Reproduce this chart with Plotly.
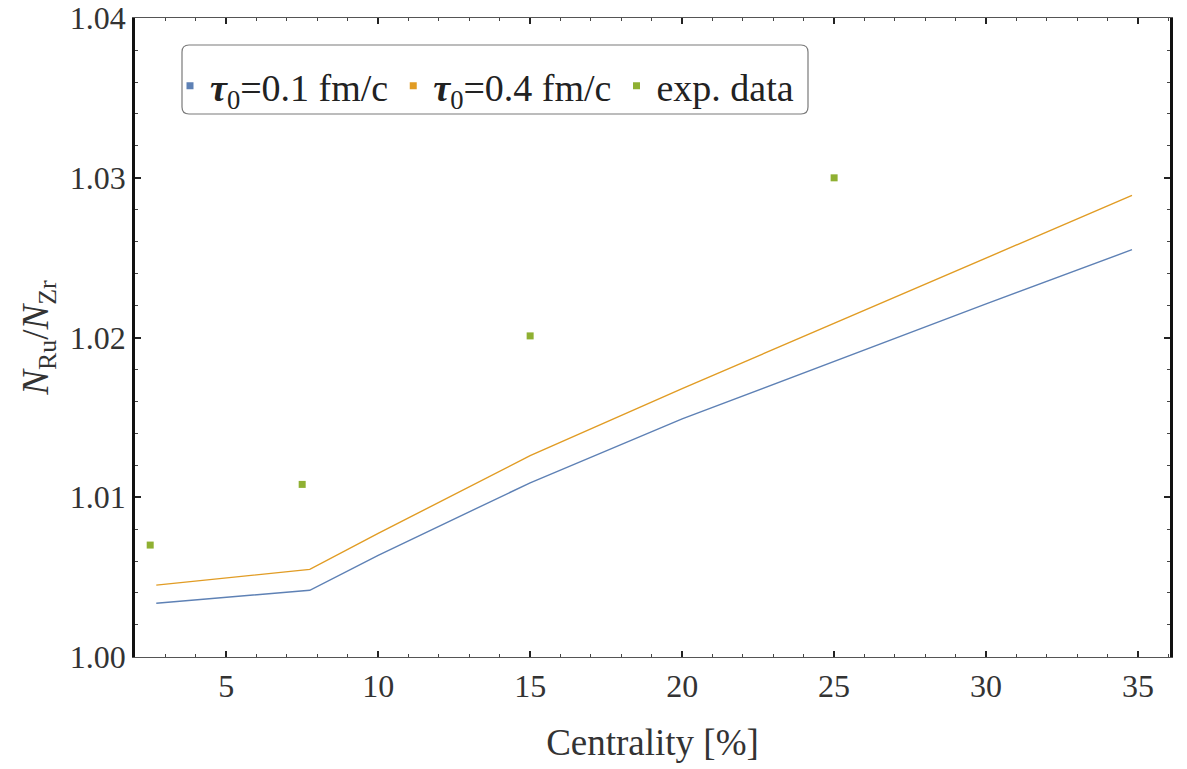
import plotly.graph_objects as go

# Model curves: N_Ru/N_Zr ratio vs centrality for two thermalization times
centrality = [2.7, 7.75, 10, 15, 20, 25, 30, 34.8]
ratio_tau01 = [1.00336, 1.00417, 1.00636, 1.0109, 1.0149, 1.0185, 1.0221, 1.0255]
ratio_tau04 = [1.00449, 1.00548, 1.00773, 1.0126, 1.0168, 1.0209, 1.0250, 1.0289]

# Measured ratios
exp_centrality = [2.5, 7.5, 15, 25]
exp_ratio = [1.0070, 1.0108, 1.0201, 1.0300]

x_ticks = [5, 10, 15, 20, 25, 30, 35]
y_ticks = [1.00, 1.01, 1.02, 1.03, 1.04]

names = ["<b><i>τ</i></b><sub>0</sub>=0.1 fm/c",
         "<b><i>τ</i></b><sub>0</sub>=0.4 fm/c",
         "exp. data"]
colors = ["#5E81B5", "#E19C24", "#8FB032"]

FONT = "Liberation Serif"
W, H = 1187, 769
ML, MR, MT, MB = 135, 17, 18, 112
PW, PH = W - ML - MR, H - MT - MB

fig = go.Figure()
fig.add_trace(go.Scatter(x=centrality, y=ratio_tau01, mode="lines",
                         line=dict(color=colors[0], width=1.4), showlegend=False))
fig.add_trace(go.Scatter(x=centrality, y=ratio_tau04, mode="lines",
                         line=dict(color=colors[1], width=1.4), showlegend=False))
fig.add_trace(go.Scatter(x=exp_centrality, y=exp_ratio, mode="markers",
                         marker=dict(color=colors[2], size=7, symbol="square"),
                         showlegend=False))

# Square legend keys for every series
for name, col in zip(names, colors):
    fig.add_trace(go.Scatter(x=[None], y=[None], mode="markers", name=name,
                             marker=dict(color=col, size=7, symbol="square")))


def px_x(p):
    return (p - ML) / PW


def px_y(p):
    return (H - MB - p) / PH


# Rounded legend frame
x0, x1, y0, y1, r = 182, 808, 45, 114, 7
path = (f"M {px_x(x0 + r)},{px_y(y0)} L {px_x(x1 - r)},{px_y(y0)} "
        f"Q {px_x(x1)},{px_y(y0)} {px_x(x1)},{px_y(y0 + r)} "
        f"L {px_x(x1)},{px_y(y1 - r)} Q {px_x(x1)},{px_y(y1)} {px_x(x1 - r)},{px_y(y1)} "
        f"L {px_x(x0 + r)},{px_y(y1)} Q {px_x(x0)},{px_y(y1)} {px_x(x0)},{px_y(y1 - r)} "
        f"L {px_x(x0)},{px_y(y0 + r)} Q {px_x(x0)},{px_y(y0)} {px_x(x0 + r)},{px_y(y0)} Z")
fig.add_shape(type="path", path=path, xref="paper", yref="paper",
              line=dict(color="#7a7a7a", width=1.2), fillcolor="white", layer="below")

fig.update_layout(
    width=W, height=H,
    margin=dict(l=ML, r=MR, t=MT, b=MB, autoexpand=False),
    paper_bgcolor="white", plot_bgcolor="white",
    font=dict(family=FONT, size=32, color="#333333"),
    showlegend=True,
    legend=dict(orientation="h", x=px_x(170), xanchor="left",
                y=px_y(86), yanchor="middle",
                bgcolor="rgba(0,0,0,0)", borderwidth=0,
                font=dict(family=FONT, size=38, color="#222222"),
                itemclick=False),
    xaxis=dict(range=[2, 36.05], tickvals=x_ticks, automargin=False,
               ticks="inside", ticklen=6, tickwidth=1.5, tickcolor="#222",
               minor=dict(dtick=1, tick0=0, ticks="inside", ticklen=3,
                          tickwidth=1, tickcolor="#444"),
               showline=True, linecolor="#555", linewidth=1.3, mirror="ticks",
               showgrid=False, zeroline=False,
               title=dict(text="Centrality [%]", standoff=26,
                          font=dict(family=FONT, size=37, color="#333"))),
    yaxis=dict(range=[0.99999, 1.04001], tickvals=y_ticks, automargin=False,
               tickformat=".2f", ticklabeloverflow="allow",
               ticks="inside", ticklen=6, tickwidth=1.5, tickcolor="#222",
               minor=dict(dtick=0.002, tick0=1.0, ticks="inside", ticklen=3,
                          tickwidth=1, tickcolor="#444"),
               showline=True, linecolor="#111", linewidth=2.5, mirror="ticks",
               showgrid=False, zeroline=False,
               title=dict(text="<i>N</i><sub>Ru</sub>/<i>N</i><sub>Zr</sub>",
                          standoff=10,
                          font=dict(family=FONT, size=37, color="#333"))),
)

fig.write_html("out.html")
